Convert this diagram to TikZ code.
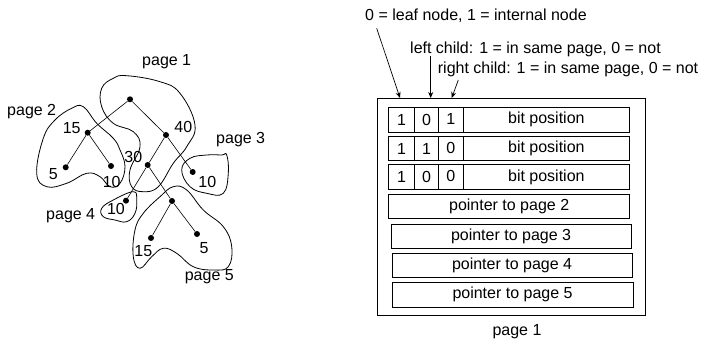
\documentclass[tikz,border=0pt]{standalone}
\usepackage{fontspec}
\setmainfont{Liberation Sans}
\usetikzlibrary{arrows.meta}
\begin{document}
\begin{tikzpicture}[x=1pt,y=-1pt,
  font=\fontsize{16}{19}\selectfont,
  dot/.style={circle,fill=black,inner sep=0pt,minimum size=6pt},
  lbl/.style={inner sep=0pt},
  edge/.style={line width=0.6pt},
  blob/.style={draw,line width=0.8pt,smooth cycle,tension=0.7},
  cell/.style={draw,line width=0.7pt,rectangle,inner sep=0pt,anchor=north west},
  arr/.style={line width=0.7pt,-{Stealth[length=6pt,width=5pt]}}]
\useasboundingbox (0,0) rectangle (704,344);

% ---------- tree ----------
\node[dot] (r)  at (130,99.3) {};
\node[dot] (n15) at (87.7,132.7) {};
\node[dot] (l5) at (65.7,167.3) {};
\node[dot] (l10a) at (111,166) {};
\node[dot] (n40) at (166,135) {};
\node[dot] (n30) at (147.7,165) {};
\node[dot] (l10b) at (192.7,172) {};
\node[dot] (l10c) at (126,200.7) {};
\node[dot] (n5r) at (172,201) {};
\node[dot] (l15) at (151,238) {};
\node[dot] (l5b) at (197,234) {};

\draw[edge] (r) -- (n15);
\draw[edge] (r) -- (n40);
\draw[edge] (n15) -- (l5);
\draw[edge] (n15) -- (l10a);
\draw[edge] (n40) -- (n30);
\draw[edge] (n40) -- (l10b);
\draw[edge] (n30) -- (l10c);
\draw[edge] (n30) -- (n5r);
\draw[edge] (n5r) -- (l15);
\draw[edge] (n5r) -- (l5b);

\node[lbl] (t15) at (71.7,128.3) {15};
\node[lbl] (t5) at (53.3,174) {5};
\node[lbl] (t10a) at (111.7,182) {10};
\node[lbl] (t40) at (183.3,127.3) {40};
\node[lbl] (t30) at (133.3,156.7) {30};
\node[lbl] (t10b) at (207.3,182) {10};
\node[lbl] (t10c) at (116,209) {10};
\node[lbl] (t15b) at (143.3,250.7) {15};
\node[lbl] (t5b) at (204,248.5) {5};

\node[lbl] (p1) at (166.7,61.7) {page 1};
\node[lbl] (p2) at (31.7,111.7) {page 2};
\node[lbl] (p3) at (240.7,139.3) {page 3};
\node[lbl] (p4) at (70.7,216) {page 4};
\node[lbl] (p5) at (209.3,276.7) {page 5};

% ---------- page outlines ----------
\draw[blob] plot coordinates {(101.7,88.3) (113.3,78.3) (126.7,75.7) (160,81.7) (180,93.3) (195,125) (186.7,146.7) (173.3,163.3) (158.3,186.7) (143.3,191.7) (131.7,186.7) (130,170) (140,146.7) (133.3,131.7) (113.3,123.3) (101.7,106.7)};
\draw[blob] plot coordinates {(43.3,138.3) (55,120) (71.7,108.3) (83.3,106.7) (96.7,123.3) (113.3,138.3) (120,150) (125,166.7) (120,183.3) (110,186.7) (100,176.7) (86.7,173.3) (66.7,183.3) (46.7,186.7) (36.7,173.3)};
\draw[blob] plot coordinates {(181.7,170) (190,158.3) (206.7,155) (221.7,155) (226.7,155) (228.3,173.3) (223.3,193.3) (206.7,193.3) (190,186.7)};
\draw[blob] plot coordinates {(101.7,208.3) (113.3,200) (133.3,191.7) (136.7,200) (135,213.3) (126.7,221.7) (115,220) (103.3,216.7)};
\draw[blob] plot coordinates {(135,230) (143.3,213.3) (160,196.7) (173.3,186.7) (186.7,190) (203.3,210) (223.3,226.7) (231.7,246.7) (228.3,266.7) (213.3,270) (193.3,266.7) (176.7,253.3) (163.3,248.3) (151.7,256.7) (140,268.3) (133.3,256.7)};

% ---------- page layout ----------
\node[cell,line width=0.8pt,minimum width=268.5pt,minimum height=217pt] (outer) at (376.5,98) {};

\node[cell,minimum width=26pt,minimum height=24.4pt] (c11) at (388.3,107.3) {1};
\node[cell,minimum width=24pt,minimum height=24.4pt] (c12) at (414.3,107.3) {0};
\node[cell,minimum width=24.4pt,minimum height=24.4pt] (c13) at (438.3,107.3) {\raisebox{2pt}{1}};
\node[cell,minimum width=166.6pt,minimum height=24.4pt] (c14) at (462.7,107.3) {bit position};

\node[cell,minimum width=26pt,minimum height=24.4pt] (c21) at (388.3,136) {1};
\node[cell,minimum width=24pt,minimum height=24.4pt] (c22) at (414.3,136) {1};
\node[cell,minimum width=24.4pt,minimum height=24.4pt] (c23) at (438.3,136) {\raisebox{2pt}{0}};
\node[cell,minimum width=166.6pt,minimum height=24.4pt] (c24) at (462.7,136) {bit position};

\node[cell,minimum width=26pt,minimum height=24.6pt] (c31) at (388.3,164.4) {1};
\node[cell,minimum width=24pt,minimum height=24.6pt] (c32) at (414.3,164.4) {0};
\node[cell,minimum width=24.4pt,minimum height=24.6pt] (c33) at (438.3,164.4) {\raisebox{2pt}{0}};
\node[cell,minimum width=166.6pt,minimum height=24.6pt] (c34) at (462.7,164.4) {bit position};

\node[cell,minimum width=241pt,minimum height=24.3pt] (pp2) at (388.3,194) {pointer to page 2};
\node[cell,minimum width=240pt,minimum height=24.3pt] (pp3) at (390.7,224) {pointer to page 3};
\node[cell,minimum width=240pt,minimum height=24pt] (pp4) at (391.7,253.3) {pointer to page 4};
\node[cell,minimum width=241pt,minimum height=24.4pt] (pp5) at (391.7,282.3) {pointer to page 5};

\node[lbl] (pg1) at (517,331.7) {page 1};

% ---------- annotations ----------
\node[lbl,anchor=base west] (ann1) at (365,20.7) {0 = leaf node, 1 = internal node};
\node[lbl,anchor=base west] (ann2) at (410,53.3) {left child: 1 = in same page, 0 = not};
\node[lbl,anchor=base west] (ann3) at (437.7,74) {right child: 1 = in same page, 0 = not};

\coordinate (a1s) at (376.7,28.3);
\coordinate (a1e) at (400,98);
\coordinate (a2s) at (430.7,56);
\coordinate (a2e) at (430.7,98);
\coordinate (a3s) at (458.3,80);
\coordinate (a3e) at (451.7,98);
\draw[arr] (a1s) -- (a1e);
\draw[arr] (a2s) -- (a2e);
\draw[arr] (a3s) -- (a3e);
\end{tikzpicture}
\end{document}
